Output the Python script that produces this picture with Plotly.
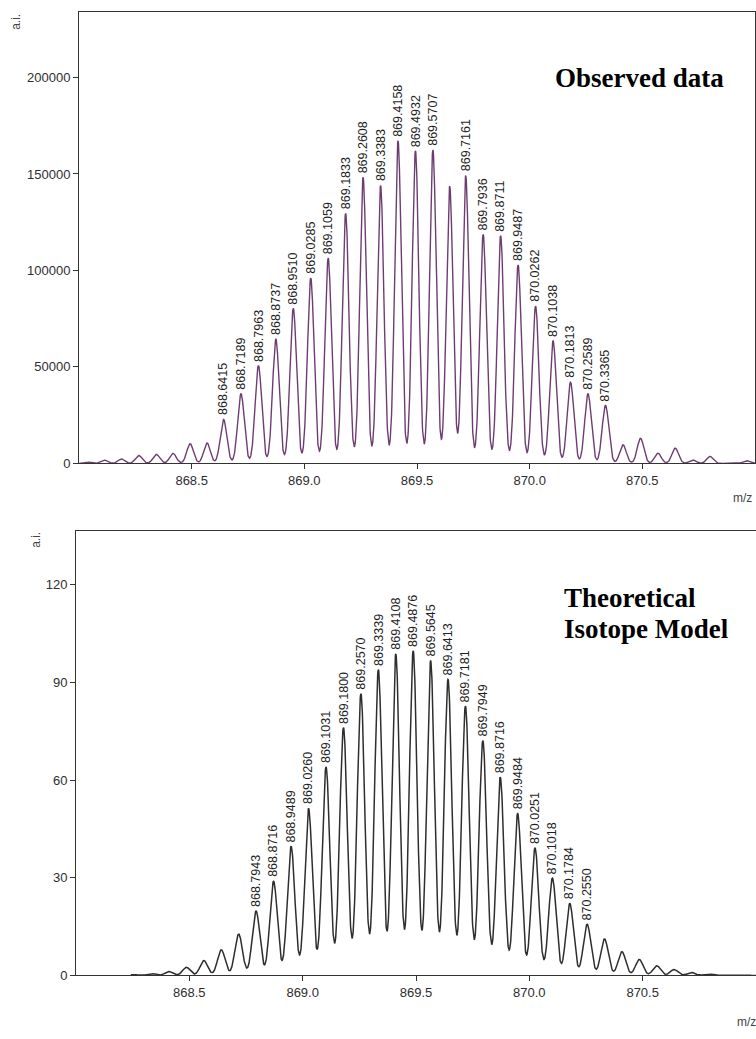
import numpy as np
import plotly.graph_objects as go

W, H = 756, 1039

# ---- Observed spectrum: annotated isotope peaks (m/z, intensity in a.i.)
obs_lab_mz = [868.6415, 868.7189, 868.7963, 868.8737, 868.9510, 869.0285, 869.1059,
              869.1833, 869.2608, 869.3383, 869.4158, 869.4932, 869.5707, 869.7161,
              869.7936, 869.8711, 869.9487, 870.0262, 870.1038, 870.1813, 870.2589,
              870.3365]
obs_lab_int = [22800, 36100, 50700, 64400, 80300, 96100, 106400,
               129500, 148300, 144000, 167200, 162000, 162500, 149200,
               118700, 118000, 102900, 81500, 63500, 42100, 36100,
               30100]
# Observed peaks without annotation
obs_min_mz = [868.040, 868.113, 868.188, 868.265, 868.343, 868.417, 868.493, 868.568,
              869.645, 870.414, 870.492, 870.569, 870.646, 870.724, 870.800, 870.962]
obs_min_int = [700, 1700, 2300, 4100, 4700, 5200, 10200, 10600,
               143700, 9600, 13000, 5300, 7900, 1800, 3600, 1400]

# ---- Theoretical isotope model: annotated peaks (m/z, relative intensity)
th_lab_mz = [868.7943, 868.8716, 868.9489, 869.0260, 869.1031, 869.1800, 869.2570,
             869.3339, 869.4108, 869.4876, 869.5645, 869.6413, 869.7181, 869.7949,
             869.8716, 869.9484, 870.0251, 870.1018, 870.1784, 870.2550]
th_lab_int = [19.8, 28.9, 39.6, 51.3, 64.0, 76.1, 86.5,
              93.9, 98.7, 99.7, 96.6, 90.9, 82.7, 72.1,
              60.9, 49.7, 39.1, 29.9, 22.1, 15.7]
th_min_mz = [868.256, 868.333, 868.410, 868.487, 868.564, 868.641, 868.7176,
             870.3317, 870.4083, 870.4850, 870.5617, 870.6383, 870.7150, 870.7917,
             870.8683, 870.9450]
th_min_int = [0.3, 0.6, 1.2, 2.5, 4.6, 7.9, 12.7,
              11.2, 7.3, 4.9, 3.0, 1.8, 0.9, 0.5,
              0.25, 0.12]

x_ticks = [868.5, 869.0, 869.5, 870.0, 870.5]
obs_y_ticks = [0, 50000, 100000, 150000, 200000]
th_y_ticks = [0, 30, 60, 90, 120]

# Gaussian peak widths (m/z) used to render the centroids as a profile
OBS_SIGMA = 0.0147
TH_SIGMA = 0.0167


def profile(grid, centers, heights, sigma):
    c = np.asarray(centers)[:, None]
    h = np.asarray(heights)[:, None]
    return (h * np.exp(-((grid[None, :] - c) ** 2) / (2 * sigma ** 2))).sum(axis=0)


obs_x = np.arange(868.0, 871.0005, 0.001)
obs_y = profile(obs_x, obs_lab_mz + obs_min_mz, obs_lab_int + obs_min_int, OBS_SIGMA)
th_x = np.arange(868.242, 871.0005, 0.001)
th_y = profile(th_x, th_lab_mz + th_min_mz, th_lab_int + th_min_int, TH_SIGMA)

SANS = "Arial, Liberation Sans, sans-serif"
SERIF = "Times New Roman, Liberation Serif, serif"
AXIS_C = "#333333"
OBS_C = "#6d3d71"
TH_C = "#2e2e2e"

fig = go.Figure()
fig.add_trace(go.Scatter(x=obs_x, y=obs_y, mode="lines",
                         line=dict(color=OBS_C, width=1.4),
                         xaxis="x", yaxis="y", showlegend=False, hoverinfo="skip"))
fig.add_trace(go.Scatter(x=th_x, y=th_y, mode="lines",
                         line=dict(color=TH_C, width=1.5),
                         xaxis="x2", yaxis="y2", showlegend=False, hoverinfo="skip"))


def px_x(p):
    return p / W


def px_y(p):
    return 1 - p / H


axis_common = dict(showgrid=False, zeroline=False, showline=True, linecolor=AXIS_C,
                   linewidth=1, ticks="outside", ticklen=5, tickcolor=AXIS_C,
                   tickfont=dict(family=SANS, size=13, color="#2e2e2e"))

fig.update_layout(
    width=W, height=H, autosize=False,
    margin=dict(l=0, r=0, t=0, b=0),
    paper_bgcolor="white", plot_bgcolor="white",
    xaxis=dict(domain=[px_x(79), px_x(755)], anchor="y", range=[868.0, 871.0],
               tickvals=x_ticks, ticktext=[f"{v:.1f}" for v in x_ticks],
               mirror=True, **axis_common),
    yaxis=dict(domain=[px_y(467), px_y(12)], anchor="x", range=[0, 234000],
               tickvals=obs_y_ticks, ticktext=[str(v) for v in obs_y_ticks],
               mirror=True, **axis_common),
    xaxis2=dict(domain=[px_x(76), 1.0], anchor="y2", range=[868.0, 871.0],
                tickvals=x_ticks, ticktext=[f"{v:.1f}" for v in x_ticks],
                mirror=True, **axis_common),
    yaxis2=dict(domain=[px_y(983), px_y(535)], anchor="x2", range=[0, 136.5],
                tickvals=th_y_ticks, ticktext=[str(v) for v in th_y_ticks],
                **axis_common),
)

ann = []
label_font = dict(family=SANS, size=12.5, color="#1e1e1e")
for mz, it in zip(obs_lab_mz, obs_lab_int):
    ann.append(dict(x=mz, y=it, xref="x", yref="y", text=f"{mz:.4f}", textangle=-90,
                    showarrow=False, xanchor="center", yanchor="bottom", yshift=3,
                    borderpad=0, font=label_font))
for mz, it in zip(th_lab_mz, th_lab_int):
    ann.append(dict(x=mz, y=it, xref="x2", yref="y2", text=f"{mz:.4f}", textangle=-90,
                    showarrow=False, xanchor="center", yanchor="bottom", yshift=3,
                    borderpad=0, font=label_font))

title_font = dict(family=SERIF, size=27, color="black")
ann += [
    dict(x=px_x(553), y=px_y(79), xref="paper", yref="paper", text="<b>Observed data</b>",
         showarrow=False, xanchor="left", yanchor="middle", font=title_font),
    dict(x=px_x(562), y=px_y(603), xref="paper", yref="paper", text="<b>Theoretical</b>",
         showarrow=False, xanchor="left", yanchor="middle", font=title_font),
    dict(x=px_x(562), y=px_y(634), xref="paper", yref="paper", text="<b>Isotope Model</b>",
         showarrow=False, xanchor="left", yanchor="middle", font=title_font),
]

small_font = dict(family=SANS, size=12, color="#444444")
ann += [
    dict(x=px_x(16), y=px_y(22), xref="paper", yref="paper", text="a.i.", textangle=-90,
         showarrow=False, xanchor="center", yanchor="middle", font=small_font),
    dict(x=px_x(36), y=px_y(544), xref="paper", yref="paper", text="a.i.", textangle=-90,
         showarrow=False, xanchor="center", yanchor="middle", font=small_font),
    dict(x=px_x(731), y=px_y(502), xref="paper", yref="paper", text="m/z",
         showarrow=False, xanchor="left", yanchor="middle", font=small_font),
    dict(x=px_x(735), y=px_y(1030), xref="paper", yref="paper", text="m/z",
         showarrow=False, xanchor="left", yanchor="middle", font=small_font),
]

fig.update_layout(annotations=ann)
fig.write_html("out.html")
